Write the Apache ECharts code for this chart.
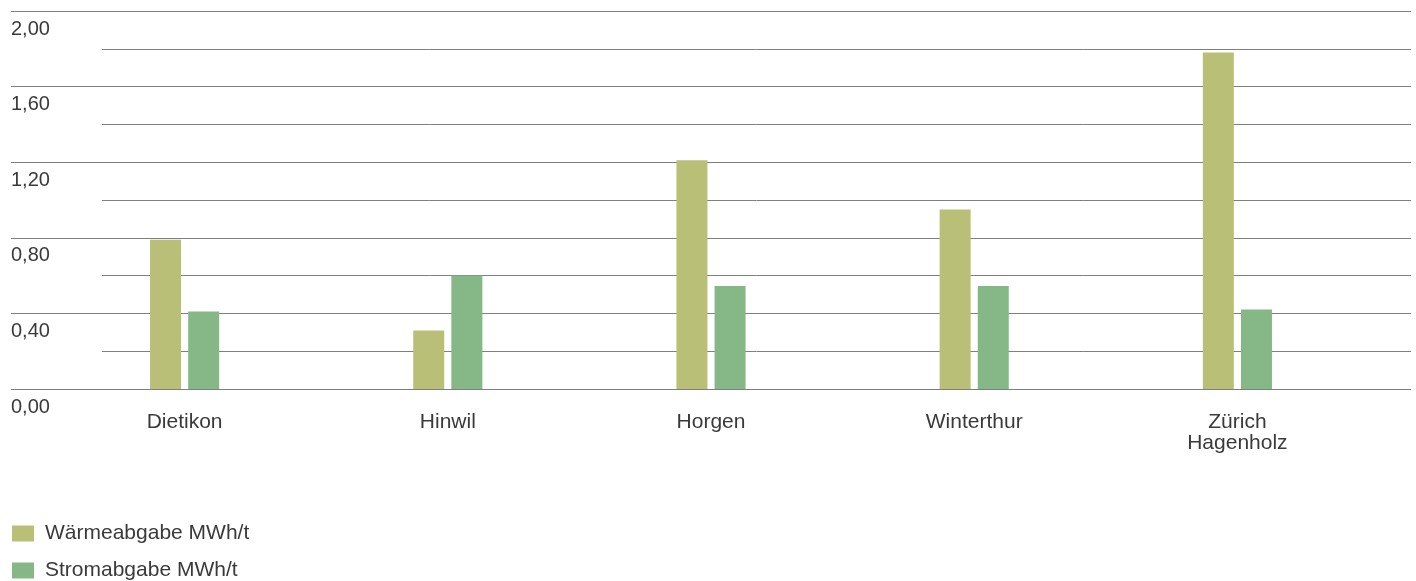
<!DOCTYPE html>
<html>
<head>
<meta charset="utf-8">
<script src="https://cdn.jsdelivr.net/npm/echarts@6/dist/echarts.min.js"></script>
<style>
html,body{margin:0;padding:0;background:#fff;}
#c{width:1416px;height:581px;}
</style>
</head>
<body>
<div id="c"></div>
<script>
const categories = ['Dietikon', 'Hinwil', 'Horgen', 'Winterthur', 'Zürich\nHagenholz'];
const waerme = [0.79, 0.31, 1.21, 0.95, 1.78];
const strom = [0.41, 0.60, 0.545, 0.545, 0.42];
const seriesNames = ['Wärmeabgabe MWh/t', 'Stromabgabe MWh/t'];
const yMin = 0, yMax = 2;

const FONT = '"Liberation Sans", Arial, sans-serif';
const TXT = '#3a3a3a';
const LINE = '#7f7f7f';

const chart = echarts.init(document.getElementById('c'), null, {renderer: 'canvas'});
const gridTop = 11, gridBottom = 192;

const legendStyle = {
  orient: 'horizontal', left: 12, padding: 0,
  itemWidth: 22, itemHeight: 16, icon: 'rect',
  textStyle: {color: TXT, fontFamily: FONT, fontSize: 21, padding: [0, 0, 0, 6]}
};

chart.setOption({
  animation: false,
  backgroundColor: '#fff',
  grid: [
    {left: 53, right: 47, top: gridTop, bottom: gridBottom},
    {left: 102, right: 5, top: gridTop, bottom: gridBottom},
    {left: 11, right: 5, top: gridTop, bottom: gridBottom}
  ],
  xAxis: [
    {
      type: 'category', gridIndex: 0, data: categories,
      axisLine: {show: false}, axisTick: {show: false},
      axisLabel: {color: TXT, fontFamily: FONT, fontSize: 21, lineHeight: 21, margin: 23}
    },
    {type: 'value', gridIndex: 1, show: false},
    {type: 'value', gridIndex: 2, show: false}
  ],
  yAxis: [
    {type: 'value', gridIndex: 0, min: yMin, max: yMax, interval: 0.2, show: false, splitLine: {show: false}},
    {
      type: 'value', gridIndex: 1, min: yMin, max: yMax, interval: 0.2,
      axisLine: {show: false}, axisTick: {show: false}, axisLabel: {show: false},
      splitLine: {show: true, lineStyle: {color: LINE, width: 1}}
    },
    {
      type: 'value', gridIndex: 2, min: yMin, max: yMax, interval: 0.4,
      axisLine: {show: false}, axisTick: {show: false},
      splitLine: {show: true, lineStyle: {color: LINE, width: 1}},
      axisLabel: {
        inside: true, margin: 0, align: 'left', verticalAlign: 'top',
        padding: [8, 0, 0, 0],
        color: TXT, fontFamily: FONT, fontSize: 20,
        formatter: v => v.toFixed(2).replace('.', ',')
      }
    }
  ],
  legend: [
    Object.assign({top: 523, data: [seriesNames[0]]}, legendStyle),
    Object.assign({top: 560, data: [seriesNames[1]]}, legendStyle)
  ],
  series: [
    {name: seriesNames[0], type: 'bar', xAxisIndex: 0, yAxisIndex: 0, data: waerme,
     barWidth: 31, barGap: '23%', itemStyle: {color: '#b9bf77'}},
    {name: seriesNames[1], type: 'bar', xAxisIndex: 0, yAxisIndex: 0, data: strom,
     barWidth: 31, barGap: '23%', itemStyle: {color: '#85b886'}}
  ]
});
</script>
</body>
</html>
